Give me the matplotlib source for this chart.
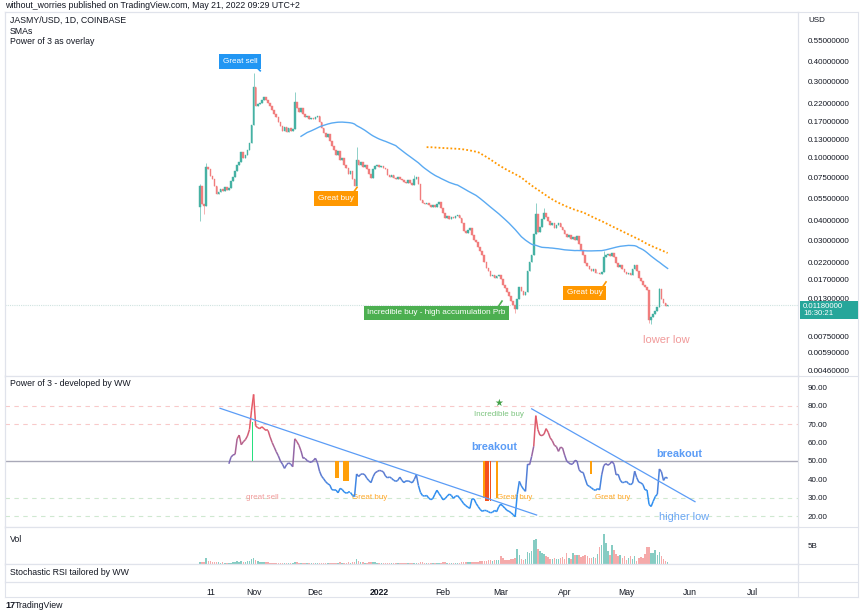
import numpy as np
import pandas as pd
import matplotlib
matplotlib.use('Agg')
import matplotlib.pyplot as plt
import matplotlib.dates as mdates
from matplotlib.collections import LineCollection
from matplotlib.colors import LinearSegmentedColormap, Normalize
from matplotlib.lines import Line2D
from matplotlib.patches import Rectangle

plt.rcParams['font.family'] = ['Liberation Sans', 'DejaVu Sans']

# ---- data --------------------------------------------------------------
start_date = '2021-10-06'
first_open = 0.0486
closes = [
    0.0659, 0.0508, 0.0493, 0.0879, 0.0842, 0.0761, 0.0729, 0.0659, 0.0587, 0.0604,
    0.0631, 0.0613, 0.0649, 0.0622, 0.0640, 0.0708, 0.0750, 0.0818, 0.0905, 0.0932,
    0.1088, 0.0997, 0.1042, 0.112, 0.1245, 0.161, 0.279, 0.212, 0.218, 0.221,
    0.231, 0.241, 0.231, 0.221, 0.212, 0.200, 0.189, 0.181, 0.168, 0.159,
    0.148, 0.156, 0.146, 0.154, 0.148, 0.152, 0.224, 0.206, 0.194, 0.206,
    0.189, 0.181, 0.183, 0.176, 0.178, 0.176, 0.181, 0.183, 0.168, 0.154,
    0.1436, 0.1355, 0.1416, 0.1281, 0.1192, 0.112, 0.1042, 0.1104, 0.0973, 0.0997,
    0.0905, 0.0866, 0.0783, 0.0818, 0.0729, 0.0659, 0.0973, 0.0905, 0.0932, 0.0879,
    0.0905, 0.0842, 0.0783, 0.0739, 0.0842, 0.0892, 0.0905, 0.0879, 0.0892, 0.0866,
    0.0842, 0.0772, 0.0750, 0.0772, 0.0739, 0.0729, 0.0750, 0.0729, 0.0718, 0.0698,
    0.0688, 0.0718, 0.0688, 0.0668, 0.0729, 0.0750, 0.0678, 0.0538, 0.0515, 0.0508,
    0.0515, 0.0501, 0.0486, 0.0501, 0.0486, 0.0508, 0.0523, 0.0479, 0.0446, 0.0415,
    0.0427, 0.0409, 0.0421, 0.0415, 0.0427, 0.0434, 0.0415, 0.0386, 0.0344, 0.0334,
    0.0349, 0.0359, 0.0325, 0.0303, 0.0294, 0.0273, 0.0257, 0.0243, 0.0220, 0.0202,
    0.0193, 0.0180, 0.0182, 0.0175, 0.0180, 0.0182, 0.0172, 0.0158, 0.0151, 0.0143,
    0.0135, 0.0125, 0.0118, 0.0112, 0.0129, 0.0153, 0.0145, 0.0137, 0.0143, 0.0193,
    0.0220, 0.0243, 0.0329, 0.0440, 0.0339, 0.0364, 0.0409, 0.0446, 0.0421, 0.0397,
    0.0375, 0.0386, 0.0359, 0.0375, 0.0386, 0.0364, 0.0349, 0.0329, 0.0315, 0.0325,
    0.0307, 0.0315, 0.0303, 0.0320, 0.0286, 0.0261, 0.0243, 0.0217, 0.0208, 0.0199,
    0.0193, 0.0199, 0.0188, 0.0188, 0.0185, 0.0191, 0.0236, 0.0243, 0.0246, 0.0239,
    0.0250, 0.0236, 0.0217, 0.0205, 0.0211, 0.0199, 0.0191, 0.0185, 0.0188, 0.0182,
    0.0199, 0.0211, 0.0193, 0.0175, 0.0167, 0.0158, 0.0153, 0.0147, 0.00954, 0.00997,
    0.0104, 0.0109, 0.0115, 0.0149, 0.0129, 0.0122, 0.0117, 0.0118,
]
# notable wicks (day index -> price)
wick_high = {0: 0.068, 3: 0.092, 26: 0.34, 46: 0.26, 76: 0.116, 104: 0.078,
             163: 0.052, 167: 0.048, 196: 0.026, 223: 0.0152}
wick_low = {0: 0.040, 2: 0.044, 153: 0.0105, 218: 0.0091, 219: 0.0090}

volumes_b = [
    0.5, 0.6, 0.4, 1.6, 0.9, 0.7, 0.6, 0.5, 0.4, 0.4,
    0.3, 0.4, 0.3, 0.3, 0.2, 0.3, 0.4, 0.5, 0.7, 0.6,
    0.8, 0.5, 0.6, 0.7, 0.9, 1.2, 1.6, 1.0, 0.8, 0.6,
    0.5, 0.6, 0.4, 0.4, 0.3, 0.3, 0.3, 0.3, 0.3, 0.3,
    0.3, 0.2, 0.3, 0.2, 0.2, 0.2, 0.6, 0.4, 0.3, 0.3,
    0.3, 0.2, 0.2, 0.2, 0.2, 0.2, 0.2, 0.2, 0.3, 0.3,
    0.3, 0.3, 0.2, 0.3, 0.3, 0.3, 0.3, 0.2, 0.4, 0.3,
    0.3, 0.3, 0.4, 0.3, 0.5, 0.6, 1.4, 0.7, 0.5, 0.4,
    0.3, 0.3, 0.4, 0.5, 0.6, 0.4, 0.3, 0.3, 0.2, 0.2,
    0.2, 0.2, 0.2, 0.2, 0.2, 0.2, 0.2, 0.2, 0.2, 0.2,
    0.2, 0.2, 0.2, 0.2, 0.3, 0.3, 0.2, 0.5, 0.4, 0.3,
    0.3, 0.3, 0.3, 0.2, 0.2, 0.3, 0.3, 0.3, 0.4, 0.4,
    0.3, 0.3, 0.3, 0.3, 0.3, 0.3, 0.3, 0.4, 0.5, 0.5,
    0.5, 0.4, 0.6, 0.6, 0.5, 0.6, 0.7, 0.7, 0.8, 0.8,
    1.0, 1.1, 0.9, 1.0, 1.0, 1.1, 2.0, 1.6, 1.0, 1.1,
    1.0, 1.2, 1.2, 1.6, 4.0, 2.5, 1.3, 1.0, 1.2, 3.2,
    3.0, 3.3, 6.3, 6.5, 4.0, 3.3, 3.0, 2.6, 2.0, 1.8,
    1.4, 1.2, 1.7, 1.3, 1.2, 1.5, 1.8, 1.4, 2.9, 1.6,
    1.3, 3.0, 2.4, 2.3, 2.5, 1.8, 2.0, 2.4, 2.0, 1.5,
    1.6, 1.8, 1.5, 2.6, 4.5, 5.0, 7.8, 5.6, 3.5, 2.5,
    5.0, 3.8, 2.6, 2.0, 2.4, 1.6, 2.0, 1.1, 1.7, 2.2,
    1.3, 2.0, 0.9, 1.5, 1.8, 1.7, 2.6, 4.6, 4.5, 3.0,
    2.8, 3.6, 2.5, 3.2, 2.0, 1.2, 0.8, 0.5,
]

# "Power of 3" oscillator, starts at day index 14
p3_first_day = 14
p3_values = [
    48.5, 52, 53.3, 53.6, 62, 64, 58.8, 60.4, 61.5, 63.5,
    67, 77.5, 86, 69, 68, 67.5, 68.5, 67.5, 66.5, 66.5,
    63, 60, 57.5, 55, 52.8, 50, 48.3, 46, 48, 49,
    48.3, 46.9, 62, 60.5, 58.5, 55.5, 51.4, 51.4, 50.2, 49.6,
    49.3, 50.2, 51.5, 49, 44.5, 41.8, 40.4, 38.8, 37.7, 37,
    34.5, 34.3, 34.3, 32.8, 35.2, 34.6, 33.2, 32.6, 33, 33,
    31.4, 30.8, 43, 41.6, 42.8, 43.1, 42.5, 40.6, 39.4, 38.3,
    41.5, 43.6, 44.3, 44.9, 44.7, 44.1, 41.9, 40.9, 41.4, 40.6,
    39.6, 39, 39.5, 41.3, 39.5, 38.3, 39.3, 39.3, 38.8, 38.2,
    40, 42.6, 36.8, 33, 31.3, 31, 31.4, 30, 29.1, 29.7,
    32, 34.2, 32.4, 30.8, 29, 29.7, 31, 32.1, 31.4, 29.8,
    30.9, 31.3, 30, 28.5, 26.9, 25.9, 25, 24.4, 29.5, 29.5,
    27.1, 25.4, 23.8, 22.8, 23.3, 23.2, 22.6, 22, 22.3, 23.3,
    22.6, 25.3, 26.7, 25.6, 24.5, 23.3, 22.8, 22, 21, 19.9,
    32, 39, 36.5, 34.8, 33.6, 48.3, 48, 52.5, 58, 74.5,
    67, 64, 63.7, 64.5, 67.5, 65.5, 62.5, 61, 58.5, 57.8,
    55.2, 57.5, 57, 53.2, 50, 49, 48.2, 48.5, 50.3, 50,
    45.3, 44, 43.8, 40.3, 37, 36.3, 35.5, 34.6, 34.1, 35.1,
    34.4, 42.5, 47.5, 48.6, 47.7, 48.5, 49.8, 48.2, 42.5, 42.8,
    39.6, 38.3, 38.5, 39, 37.8, 37.2, 38, 44.5, 41, 38.6,
    38.2, 37.3, 34.4, 34.3, 26.5, 25.4, 28.2, 30.8, 32, 45.7,
    44.2, 39.5, 41.3, 40.6,
]
# signal bars hanging from the 50 line (day index -> value)
buy_bars = {66: 41, 67: 41, 70: 39, 71: 39, 72: 39, 138: 30, 144: 30, 190: 43}
strong_bars = {139: 28.4, 140: 28.4, 141: 28.4}
sell_bars = {26: 71}

price_ticks = [0.55, 0.40, 0.30, 0.22, 0.17, 0.13, 0.10, 0.075, 0.055, 0.040,
               0.030, 0.022, 0.017, 0.013, 0.0075, 0.0059, 0.0046]
osc_ticks = [20, 30, 40, 50, 60, 70, 80, 90]
month_ticks = ['2021-10-11', '2021-11-01', '2021-12-01', '2022-01-01', '2022-02-01',
               '2022-03-01', '2022-04-01', '2022-05-01', '2022-06-01', '2022-07-01']
month_labels = ['11', 'Nov', 'Dec', '2022', 'Feb', 'Mar', 'Apr', 'May', 'Jun', 'Jul']
last_price = 0.0118

# ---- derived ----------------------------------------------------------
closes = np.array(closes)
opens = np.concatenate([[first_open], closes[:-1]])
dates = pd.date_range(start_date, periods=len(closes), freq='D')
xd = mdates.date2num(dates)
x0 = xd[0]
up = closes >= opens
c_up, c_dn = '#45b1a3', '#f17d7d'
colors = np.where(up, c_up, c_dn)
sma_fast = pd.Series(closes).rolling(50).mean()
sma_slow = pd.Series(closes).rolling(111).mean()

# ---- layout ------------------------------------------------------------
W, H = 860, 615
fig = plt.figure(figsize=(8.6, 6.15), dpi=100)
L, R = 5, 798


def pane(top, bottom, **kw):
    return fig.add_axes([L / W, 1 - bottom / H, (R - L) / W, (bottom - top) / H], **kw)


ax_p = pane(12, 376)
ax_i = pane(376, 527, sharex=ax_p)
ax_v = pane(527, 564, sharex=ax_p)
ax_s = pane(564, 582, sharex=ax_p)

grid_c = '#e0e3eb'
txt_c = '#131722'
for ax in (ax_p, ax_i, ax_v, ax_s):
    for sp in ax.spines.values():
        sp.set_color(grid_c)
        sp.set_linewidth(0.8)
    ax.yaxis.tick_right()
    ax.tick_params(axis='y', length=0, pad=7, labelsize=5.8, labelcolor=txt_c)
    ax.tick_params(axis='x', length=0, labelbottom=False)
    ax.set_facecolor('white')

ax_p.set_xlim(x0 - 94.7, x0 + 290.3)

# ---- price pane --------------------------------------------------------
ax_p.set_yscale('log')
ax_p.set_ylim(0.004221, 0.8253)
body_lo = np.minimum(opens, closes)
body_hi = np.maximum(opens, closes)
hi = body_hi.copy()
lo = body_lo.copy()
for k, v in wick_high.items():
    hi[k] = v
for k, v in wick_low.items():
    lo[k] = v
ax_p.vlines(xd, lo, hi, colors=colors, lw=0.6, alpha=0.7, zorder=2)
ax_p.bar(xd, body_hi - body_lo, bottom=body_lo, width=0.8, color=colors,
         edgecolor=colors, linewidth=0.3, zorder=3)
ax_p.plot(xd, sma_fast, color='#5aaaf2', lw=1.0, zorder=4)
ax_p.plot(xd, sma_slow, color='#ff9800', lw=1.3, ls=(0, (1, 1.2)), zorder=4)
ax_p.axhline(last_price, color='#cfe3e0', lw=0.8, ls=(0, (1, 1)), zorder=1)

ax_p.set_yticks(price_ticks)
ax_p.set_yticklabels([f'{v:.8f}' for v in price_ticks])
ax_p.yaxis.set_minor_locator(matplotlib.ticker.NullLocator())

# last-price tag on the price scale
fig.add_artist(Rectangle((800 / W, 1 - 319 / H), 58 / W, 18 / H, transform=fig.transFigure,
                         fc='#26a69a', ec='none', zorder=10))
fig.text(803 / W, 1 - 310 / H, f'{last_price:.8f}\n16:30:21', fontsize=5.6, color='white',
         va='center', linespacing=1.0, zorder=11)


def tag(day, price, text, color, tail_from, tail_to):
    ax_p.text(x0 + day, price, text, ha='center', va='center', fontsize=5.9,
              color='white', zorder=6,
              bbox=dict(boxstyle='square,pad=0.45', fc=color, ec='none'))
    ax_p.plot([x0 + tail_from[0], x0 + tail_to[0]], [tail_from[1], tail_to[1]],
              color=color, lw=1.2, zorder=6)


tag(19.4, 0.403, 'Great sell', '#2196f3', (27.5, 0.37), (29.2, 0.352))
tag(66.0, 0.0553, 'Great buy', '#ff9800', (74.5, 0.0605), (76.2, 0.065))
tag(114.8, 0.01052, 'Incredible buy - high accumulation Prb', '#4caf50',
    (145.0, 0.01165), (146.6, 0.0125))
tag(186.7, 0.01406, 'Great buy', '#ff9800', (195.5, 0.0154), (197.1, 0.0165))
ax_p.text(x0 + 226.2, 0.00711, 'lower low', ha='center', va='center',
          fontsize=8, color='#f19a9a')

for i, t in enumerate(['JASMY/USD, 1D, COINBASE', 'SMAs', 'Power of 3 as overlay']):
    fig.text(10 / W, 1 - (20 + 11 * i) / H, t, fontsize=6.3, color=txt_c, va='center')
fig.text(808 / W, 1 - 20 / H, 'USD', fontsize=5.8, color=txt_c, va='center')
fig.text(5 / W, 1 - 5 / H, 'without_worries published on TradingView.com, May 21, 2022 09:29 UTC+2',
         fontsize=6.3, color=txt_c, va='center')

# ---- Power of 3 pane ---------------------------------------------------
ax_i.set_ylim(14.32, 95.95)
ax_i.set_yticks(osc_ticks)
ax_i.set_yticklabels([f'{v:.2f}' for v in osc_ticks])
for lvl, c in ((80, '#f8c9c9'), (70, '#f8c9c9'), (30, '#cfe8d0'), (20, '#cfe8d0')):
    ax_i.axhline(lvl, color=c, lw=0.8, ls=(0, (4, 4)), zorder=1)
ax_i.axhline(50, color='#a9a9b8', lw=1.0, zorder=2)

for k, v in buy_bars.items():
    ax_i.bar(x0 + k, 50 - v, bottom=v, width=0.9, color='#ff9f0a', zorder=3)
for k, v in strong_bars.items():
    ax_i.bar(x0 + k, 50 - v, bottom=v, width=0.9, color='#f4511e', zorder=3)
for k, v in sell_bars.items():
    ax_i.bar(x0 + k - 0.5, v - 50, bottom=50, width=0.7, color='#27e07f', zorder=3)

px = x0 + p3_first_day + np.arange(len(p3_values))
py = np.array(p3_values)
pts = np.column_stack([px, py]).reshape(-1, 1, 2)
segs = np.concatenate([pts[:-1], pts[1:]], axis=1)
cmap = LinearSegmentedColormap.from_list('p3', ['#2f8ff0', '#7d6bb8', '#e55a66'])
lc = LineCollection(segs, cmap=cmap, norm=Normalize(33, 68), lw=1.1, zorder=4)
lc.set_array((py[:-1] + py[1:]) / 2)
ax_i.add_collection(lc)

tl_c = '#5b9cf6'
ax_i.plot([x0 + 9.7, x0 + 163.4], [78.5, 20.8], color=tl_c, lw=0.9, zorder=5)
ax_i.plot([x0 + 161.0, x0 + 240.3], [78.2, 28.0], color=tl_c, lw=0.9, zorder=5)

ax_i.text(x0 + 30, 30.5, 'great sell', fontsize=5.8, color='#f29a9a', ha='center', va='center')
ax_i.text(x0 + 82.5, 30.5, 'Great buy', fontsize=5.8, color='#ffa726', ha='center', va='center')
ax_i.text(x0 + 152.5, 30.5, 'Great buy', fontsize=5.8, color='#ffa726', ha='center', va='center')
ax_i.text(x0 + 200.5, 30.5, 'Great buy', fontsize=5.8, color='#ffa726', ha='center', va='center')
ax_i.text(x0 + 145.2, 81.2, '★', fontsize=7, color='#43a047', ha='center', va='center',
          family='DejaVu Sans')
ax_i.text(x0 + 145.2, 75.4, 'Incredible buy', fontsize=5.8, color='#7cc47f',
          ha='center', va='center')
ax_i.text(x0 + 142.8, 57.7, 'breakout', fontsize=7.8, color=tl_c, fontweight='bold',
          ha='center', va='center')
ax_i.text(x0 + 232.5, 53.6, 'breakout', fontsize=7.8, color=tl_c, fontweight='bold',
          ha='center', va='center')
ax_i.text(x0 + 235.0, 19.9, 'higher low', fontsize=7.8, color='#6aa6f4',
          ha='center', va='center')
ax_i.text(5 / (R - L), 1 - 7 / 151, 'Power of 3 - developed by WW', transform=ax_i.transAxes,
          fontsize=6.3, color=txt_c, va='center')

# ---- volume pane -------------------------------------------------------
ax_v.set_ylim(0, 9.74)
ax_v.bar(xd, volumes_b, width=0.75, color=colors, alpha=0.65, zorder=2)
ax_v.set_yticks([5])
ax_v.set_yticklabels(['5B'])
ax_v.text(5 / (R - L), 1 - 13 / 37, 'Vol', transform=ax_v.transAxes,
          fontsize=6.3, color=txt_c, va='center')

# ---- stochastic pane + time axis --------------------------------------
ax_s.set_ylim(0, 1)
ax_s.set_yticks([])
ax_s.text(5 / (R - L), 0.55, 'Stochastic RSI tailored by WW', transform=ax_s.transAxes,
          fontsize=6.3, color=txt_c, va='center')
ax_s.set_xticks(mdates.date2num(pd.to_datetime(month_ticks)))
ax_s.set_xticklabels(month_labels)
ax_s.tick_params(axis='x', labelbottom=True, labelsize=6.2, pad=4.5, labelcolor=txt_c)
for lab in ax_s.get_xticklabels():
    if lab.get_text() == '2022':
        lab.set_fontweight('bold')

# frame lines across the price-scale column
for yy in (12, 376, 527, 564, 582, 597):
    fig.add_artist(Line2D([L / W, 858 / W], [1 - yy / H] * 2, transform=fig.transFigure,
                          color=grid_c, lw=0.8))
for xx in (L, R, 858):
    fig.add_artist(Line2D([xx / W] * 2, [1 - 12 / H, 1 - 597 / H], transform=fig.transFigure,
                          color=grid_c, lw=0.8))

fig.text(5 / W, 1 - 606 / H, '17', fontsize=6.5, fontweight='bold', color=txt_c, va='center')
fig.text(15 / W, 1 - 606 / H, 'TradingView', fontsize=6.3, color=txt_c, va='center')

fig.savefig('out.png', dpi=100, facecolor='white')
